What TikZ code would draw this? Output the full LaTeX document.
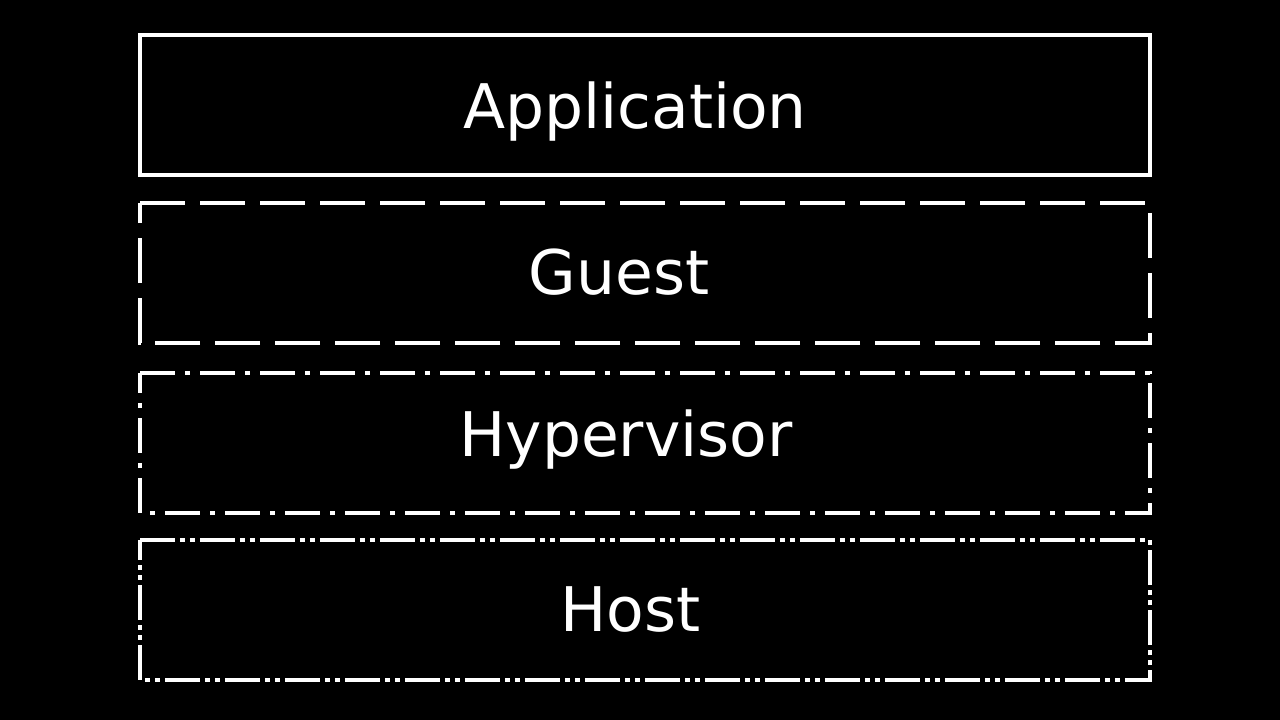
\documentclass[tikz,border=0pt]{standalone}
\usepackage{fontspec}
\setmainfont{DejaVu Sans}
\usepackage{tikz}
\usepackage{xcolor}

\begin{document}
\begin{tikzpicture}[layer/.style={draw=white,line width=1.25pt},
  lbl/.style={text=white,font=\fontsize{17.5pt}{21pt}\selectfont,anchor=base,inner sep=0pt}]
\fill[black] (0,0) rectangle (12.8,7.2);
\useasboundingbox (0,0) rectangle (12.8,7.2);
\draw[layer] (1.4,6.85) -- (11.5,6.85) -- (11.5,5.45) -- (1.4,5.45) -- cycle;
\draw[layer,dash pattern=on 0.45cm off 0.15cm] (1.4,5.17) -- (11.5,5.17) -- (11.5,3.77) -- (1.4,3.77) -- cycle;
\draw[layer,dash pattern=on 0.35cm off 0.1cm on 0.05cm off 0.1cm] (1.4,3.47) -- (11.5,3.47) -- (11.5,2.07) -- (1.4,2.07) -- cycle;
\draw[layer,dash pattern=on 0.35cm off 0.05cm on 0.05cm off 0.05cm on 0.05cm off 0.05cm] (1.4,1.8) -- (11.5,1.8) -- (11.5,0.4) -- (1.4,0.4) -- cycle;
\node[lbl] (app) at (6.35,5.91) {Application};
\node[lbl] (guest) at (6.19,4.25) {Guest};
\node[lbl] (hyper) at (6.26,2.63) {Hypervisor};
\node[lbl] (host) at (6.305,0.88) {Host};
\end{tikzpicture}
\end{document}
